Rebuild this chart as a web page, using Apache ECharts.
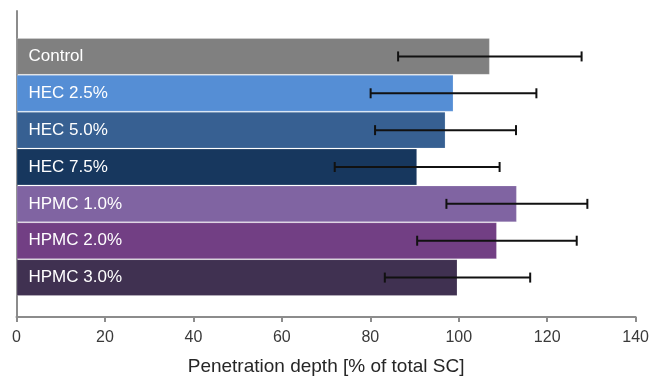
<!DOCTYPE html>
<html>
<head>
<meta charset="utf-8">
<script src="https://cdn.jsdelivr.net/npm/echarts@6/dist/echarts.min.js"></script>
<style>
  html, body { margin: 0; padding: 0; background: #ffffff; }
  #chart { width: 652px; height: 381px; }
</style>
</head>
<body>
<div id="chart"></div>
<script>
// Formulations, top to bottom
const categories = ['Control', 'HEC 2.5%', 'HEC 5.0%', 'HEC 7.5%', 'HPMC 1.0%', 'HPMC 2.0%', 'HPMC 3.0%'];
// Mean penetration depth [% of total SC]
const meanDepth = [106.8, 98.6, 96.8, 90.4, 112.9, 108.4, 99.5];
// Standard deviation (error bar half-width)
const stdDev = [20.7, 18.7, 15.9, 18.6, 15.9, 18.0, 16.4];
// Bar fill per formulation
const barColors = ['#808080', '#558ed5', '#376092', '#17375e', '#8064a2', '#723f84', '#403151'];
// x-axis ticks
const xMin = 0, xMax = 140, xStep = 20;

const FONT = '"Liberation Sans", Arial, sans-serif';
const chart = echarts.init(document.getElementById('chart'), null, { renderer: 'canvas' });

const barData = meanDepth.map((v, i) => ({
  value: v,
  itemStyle: { color: barColors[i] }
}));
const errData = meanDepth.map((v, i) => [i, v - stdDev[i], v + stdDev[i]]);

chart.setOption({
  animation: false,
  backgroundColor: '#ffffff',
  grid: [
    // bar area
    { left: 16.5, right: 15, top: 38, bottom: 85 },
    // frame with the axes
    { left: 16.5, right: 15, top: 11, bottom: 58 }
  ],
  xAxis: [
    { gridIndex: 0, type: 'value', min: xMin, max: xMax, interval: xStep, show: false },
    {
      gridIndex: 1, type: 'value', min: xMin, max: xMax, interval: xStep,
      name: 'Penetration depth [% of total SC]',
      nameLocation: 'middle', nameGap: 40,
      nameTextStyle: { fontFamily: FONT, fontSize: 19, color: '#262626' },
      axisLine: { show: true, lineStyle: { color: '#8c8c8c', width: 2 } },
      axisTick: { show: true, inside: false, length: 5, lineStyle: { color: '#8c8c8c', width: 2 } },
      axisLabel: { fontFamily: FONT, fontSize: 16, color: '#3a3a3a', margin: 13 },
      splitLine: { show: false }
    }
  ],
  yAxis: [
    { gridIndex: 0, type: 'category', data: categories, inverse: true, show: false },
    {
      gridIndex: 1, type: 'value', min: 0, max: 1,
      axisLine: { show: true, lineStyle: { color: '#8c8c8c', width: 2 } },
      axisTick: { show: false }, axisLabel: { show: false }, splitLine: { show: false }
    }
  ],
  series: [
    {
      type: 'bar',
      xAxisIndex: 0, yAxisIndex: 0,
      data: barData,
      barCategoryGap: 0,
      barWidth: '100%',
      itemStyle: { borderColor: 'rgba(255,255,255,0.18)', borderWidth: 1 },
      label: {
        show: true,
        position: 'insideLeft',
        distance: 12,
        formatter: p => categories[p.dataIndex],
        color: '#ffffff',
        fontFamily: FONT,
        fontSize: 17
      },
      z: 2
    },
    {
      type: 'custom',
      xAxisIndex: 0, yAxisIndex: 0,
      data: errData,
      encode: { x: [1, 2], y: 0 },
      z: 5,
      renderItem: function (params, api) {
        const idx = api.value(0);
        const lo = api.coord([api.value(1), idx]);
        const hi = api.coord([api.value(2), idx]);
        const cap = 5;
        const style = { stroke: '#111111', lineWidth: 2, fill: null };
        return {
          type: 'group',
          children: [
            { type: 'line', shape: { x1: lo[0], y1: lo[1], x2: hi[0], y2: hi[1] }, style },
            { type: 'line', shape: { x1: lo[0], y1: lo[1] - cap, x2: lo[0], y2: lo[1] + cap }, style },
            { type: 'line', shape: { x1: hi[0], y1: hi[1] - cap, x2: hi[0], y2: hi[1] + cap }, style }
          ]
        };
      }
    }
  ]
});
</script>
</body>
</html>
